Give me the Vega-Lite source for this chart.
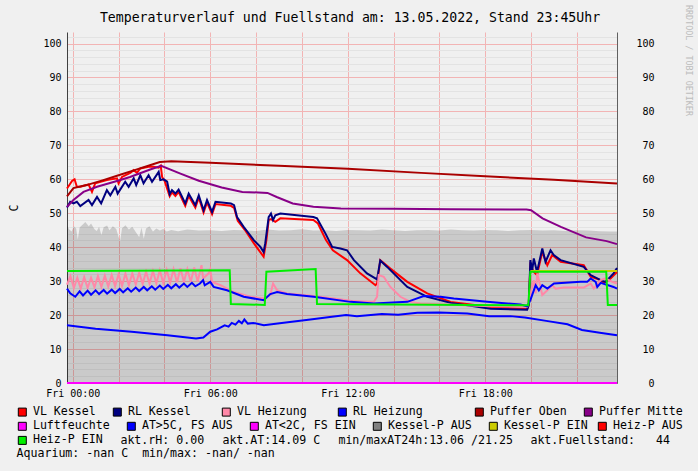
{
"$schema":"https://vega.github.io/schema/vega-lite/v6.json",
"width":550,"height":351,"autosize":"none",
"padding":{"left":67,"top":32,"right":81,"bottom":88},
"background":"#f0f0f0",
"config":{"view":{"stroke":null,"fill":"#ffffff"},"font":"DejaVu Sans Mono",
 "legend":{"orient":"none","direction":"horizontal","columnPadding":0,"rowPadding":0,"gridAlign":"each","symbolType":"square","symbolSize":64,"symbolStrokeColor":"#000000","symbolStrokeWidth":1,"symbolOpacity":1,"labelFont":"DejaVu Sans Mono","labelFontSize":11.6,"labelColor":"#000000","labelOffset":4.8,"labelLimit":400,"titleFont":"DejaVu Sans Mono","titleFontSize":11.6,"titleFontWeight":"normal","titleColor":"#000000","titleLimit":600}},
"title":{"text":"Temperaturverlauf und Fuellstand am: 13.05.2022, Stand 23:45Uhr","font":"DejaVu Sans Mono","fontSize":13.2,"fontWeight":"normal","color":"#000000","anchor":"middle","frame":"group","baseline":"middle","offset":0,"dy":27,"dx":8},
"datasets":{
"fill":[
{"h":-0.25,"v":46.3},{"h":-0.15,"v":45.2},{"h":-0.05,"v":44.6},{"h":0.05,"v":46.2},{"h":0.15,"v":45.5},{"h":0.22,"v":42.3},{"h":0.3,"v":45.8},{"h":0.45,"v":46.8},{"h":0.55,"v":47.4},{"h":0.7,"v":46.2},{"h":0.8,"v":47.0},{"h":0.95,"v":45.3},{"h":1.05,"v":44.8},{"h":1.15,"v":46.0},{"h":1.25,"v":43.6},{"h":1.35,"v":45.9},{"h":1.5,"v":46.4},{"h":1.6,"v":45.0},{"h":1.75,"v":46.2},{"h":1.9,"v":45.4},{"h":2.0,"v":43.0},{"h":2.07,"v":41.8},{"h":2.15,"v":45.6},{"h":2.3,"v":46.5},{"h":2.45,"v":45.2},{"h":2.6,"v":46.0},{"h":2.75,"v":44.5},{"h":2.9,"v":43.0},{"h":3.0,"v":45.8},{"h":3.1,"v":42.5},{"h":3.2,"v":45.5},{"h":3.35,"v":46.2},{"h":3.5,"v":44.6},{"h":3.65,"v":45.5},{"h":3.8,"v":44.9},{"h":3.95,"v":45.4},{"h":4.1,"v":44.6},{"h":4.3,"v":45.1},{"h":4.6,"v":44.7},{"h":5.0,"v":45.2},{"h":5.5,"v":44.9},{"h":6.0,"v":45.0},{"h":6.5,"v":44.8},{"h":7.0,"v":45.1},{"h":7.5,"v":45.0},{"h":8.0,"v":44.8},{"h":8.5,"v":45.2},{"h":9.0,"v":44.9},{"h":9.5,"v":45.0},{"h":10.0,"v":45.3},{"h":10.5,"v":44.9},{"h":11.0,"v":45.0},{"h":11.5,"v":44.8},{"h":12.0,"v":45.1},{"h":12.5,"v":45.0},{"h":13.0,"v":44.9},{"h":13.5,"v":45.2},{"h":14.0,"v":45.0},{"h":14.5,"v":44.8},{"h":15.0,"v":45.0},{"h":15.5,"v":45.1},{"h":16.0,"v":44.9},{"h":16.5,"v":45.2},{"h":17.0,"v":45.0},{"h":17.5,"v":44.9},{"h":18.0,"v":45.1},{"h":18.5,"v":45.0},{"h":19.0,"v":44.8},{"h":19.5,"v":45.0},{"h":20.0,"v":45.1},{"h":20.5,"v":44.9},{"h":21.0,"v":45.0},{"h":21.5,"v":44.8},{"h":22.0,"v":45.0},{"h":22.5,"v":44.9},{"h":23.0,"v":44.7},{"h":23.5,"v":44.6},{"h":23.75,"v":44.6}
],
"lines":[
{"s":"VL Kessel","h":-0.25,"v":57.3},{"s":"VL Kessel","h":-0.03,"v":59.5},{"s":"VL Kessel","h":0.08,"v":60.0},{"s":"VL Kessel","h":0.18,"v":57.8},{"s":"VL Kessel","h":0.33,"v":57.8},{"s":"VL Kessel","h":0.69,"v":58.5},{"s":"VL Kessel","h":0.84,"v":56.3},{"s":"VL Kessel","h":0.98,"v":58.8},{"s":"VL Kessel","h":1.49,"v":59.8},{"s":"VL Kessel","h":1.93,"v":60.3},{"s":"VL Kessel","h":2.0,"v":58.8},{"s":"VL Kessel","h":2.15,"v":60.7},{"s":"VL Kessel","h":2.51,"v":61.9},{"s":"VL Kessel","h":2.66,"v":62.7},{"s":"VL Kessel","h":2.8,"v":61.9},{"s":"VL Kessel","h":2.95,"v":63.2},{"s":"VL Kessel","h":3.31,"v":63.7},{"s":"VL Kessel","h":3.53,"v":63.7},{"s":"VL Kessel","h":3.75,"v":63.4},{"s":"VL Kessel","h":3.84,"v":64.0},{"s":"VL Kessel","h":3.9,"v":60.7},{"s":"VL Kessel","h":4.01,"v":59.5},{"s":"VL Kessel","h":4.23,"v":55.0},{"s":"VL Kessel","h":4.33,"v":56.2},{"s":"VL Kessel","h":4.48,"v":55.1},{"s":"VL Kessel","h":4.62,"v":56.3},{"s":"VL Kessel","h":4.91,"v":52.2},{"s":"VL Kessel","h":5.06,"v":55.1},{"s":"VL Kessel","h":5.35,"v":51.7},{"s":"VL Kessel","h":5.5,"v":54.6},{"s":"VL Kessel","h":5.71,"v":50.2},{"s":"VL Kessel","h":5.86,"v":53.2},{"s":"VL Kessel","h":6.08,"v":49.7},{"s":"VL Kessel","h":6.23,"v":52.7},{"s":"VL Kessel","h":6.9,"v":52.2},{"s":"VL Kessel","h":7.04,"v":51.6},{"s":"VL Kessel","h":7.2,"v":47.8},{"s":"VL Kessel","h":7.5,"v":45.2},{"s":"VL Kessel","h":7.9,"v":41.2},{"s":"VL Kessel","h":8.33,"v":37.2},{"s":"VL Kessel","h":8.45,"v":42.0},{"s":"VL Kessel","h":8.55,"v":48.0},{"s":"VL Kessel","h":8.65,"v":48.3},{"s":"VL Kessel","h":8.84,"v":47.5},{"s":"VL Kessel","h":9.06,"v":48.5},{"s":"VL Kessel","h":10.5,"v":48.0},{"s":"VL Kessel","h":10.7,"v":47.0},{"s":"VL Kessel","h":11.05,"v":42.1},{"s":"VL Kessel","h":11.35,"v":39.1},{"s":"VL Kessel","h":11.97,"v":36.2},{"s":"VL Kessel","h":12.55,"v":32.3},{"s":"VL Kessel","h":13.21,"v":28.8},{"s":"VL Kessel","h":13.28,"v":29.3},{"s":"VL Kessel","h":13.42,"v":36.2},{"s":"VL Kessel","h":13.86,"v":33.7},{"s":"VL Kessel","h":14.6,"v":29.8},{"s":"VL Kessel","h":15.47,"v":26.4},{"s":"VL Kessel","h":16.49,"v":23.9},{"s":"VL Kessel","h":18.24,"v":22.4},{"s":"VL Kessel","h":19.83,"v":21.8},{"s":"VL Kessel","h":19.9,"v":23.0},{"s":"VL Kessel","h":19.97,"v":34.7},{"s":"VL Kessel","h":20.12,"v":32.7},{"s":"VL Kessel","h":20.26,"v":31.8},{"s":"VL Kessel","h":20.49,"v":38.6},{"s":"VL Kessel","h":20.71,"v":34.7},{"s":"VL Kessel","h":20.92,"v":37.7},{"s":"VL Kessel","h":21.29,"v":35.7},{"s":"VL Kessel","h":22.3,"v":34.7},{"s":"VL Kessel","h":22.6,"v":31.3},{"s":"VL Kessel","h":23.04,"v":30.3},{"s":"VL Kessel","h":23.18,"v":29.5},{"s":"VL Kessel","h":23.47,"v":30.8},{"s":"VL Kessel","h":23.75,"v":32.7},
{"s":"RL Kessel","h":-0.25,"v":51.7},{"s":"RL Kessel","h":-0.11,"v":53.4},{"s":"RL Kessel","h":0.03,"v":52.9},{"s":"RL Kessel","h":0.18,"v":53.4},{"s":"RL Kessel","h":0.33,"v":52.1},{"s":"RL Kessel","h":0.69,"v":53.9},{"s":"RL Kessel","h":0.84,"v":52.4},{"s":"RL Kessel","h":1.06,"v":54.8},{"s":"RL Kessel","h":1.24,"v":52.9},{"s":"RL Kessel","h":1.49,"v":56.8},{"s":"RL Kessel","h":1.64,"v":55.3},{"s":"RL Kessel","h":1.86,"v":57.8},{"s":"RL Kessel","h":1.96,"v":55.8},{"s":"RL Kessel","h":2.29,"v":59.3},{"s":"RL Kessel","h":2.44,"v":57.8},{"s":"RL Kessel","h":2.66,"v":60.3},{"s":"RL Kessel","h":2.77,"v":58.3},{"s":"RL Kessel","h":2.95,"v":61.2},{"s":"RL Kessel","h":3.09,"v":58.8},{"s":"RL Kessel","h":3.31,"v":61.2},{"s":"RL Kessel","h":3.46,"v":59.3},{"s":"RL Kessel","h":3.75,"v":62.2},{"s":"RL Kessel","h":3.82,"v":59.8},{"s":"RL Kessel","h":3.97,"v":60.0},{"s":"RL Kessel","h":4.12,"v":59.3},{"s":"RL Kessel","h":4.23,"v":55.6},{"s":"RL Kessel","h":4.33,"v":56.8},{"s":"RL Kessel","h":4.48,"v":55.8},{"s":"RL Kessel","h":4.62,"v":57.0},{"s":"RL Kessel","h":4.91,"v":52.9},{"s":"RL Kessel","h":5.06,"v":55.8},{"s":"RL Kessel","h":5.35,"v":52.4},{"s":"RL Kessel","h":5.5,"v":55.3},{"s":"RL Kessel","h":5.71,"v":50.9},{"s":"RL Kessel","h":5.86,"v":53.9},{"s":"RL Kessel","h":6.08,"v":50.4},{"s":"RL Kessel","h":6.23,"v":53.4},{"s":"RL Kessel","h":6.9,"v":52.9},{"s":"RL Kessel","h":7.04,"v":52.4},{"s":"RL Kessel","h":7.17,"v":48.9},{"s":"RL Kessel","h":7.46,"v":46.0},{"s":"RL Kessel","h":7.9,"v":42.1},{"s":"RL Kessel","h":8.19,"v":40.1},{"s":"RL Kessel","h":8.33,"v":38.6},{"s":"RL Kessel","h":8.4,"v":41.1},{"s":"RL Kessel","h":8.55,"v":48.9},{"s":"RL Kessel","h":8.65,"v":49.9},{"s":"RL Kessel","h":8.74,"v":48.0},{"s":"RL Kessel","h":8.84,"v":49.4},{"s":"RL Kessel","h":9.06,"v":49.9},{"s":"RL Kessel","h":10.5,"v":48.9},{"s":"RL Kessel","h":10.66,"v":48.5},{"s":"RL Kessel","h":11.03,"v":44.0},{"s":"RL Kessel","h":11.32,"v":40.1},{"s":"RL Kessel","h":11.68,"v":39.6},{"s":"RL Kessel","h":11.97,"v":39.1},{"s":"RL Kessel","h":12.27,"v":36.2},{"s":"RL Kessel","h":12.84,"v":32.3},{"s":"RL Kessel","h":13.28,"v":30.5},{"s":"RL Kessel","h":13.42,"v":36.1},{"s":"RL Kessel","h":13.72,"v":34.2},{"s":"RL Kessel","h":14.6,"v":28.3},{"s":"RL Kessel","h":15.47,"v":25.4},{"s":"RL Kessel","h":16.49,"v":23.6},{"s":"RL Kessel","h":18.24,"v":21.9},{"s":"RL Kessel","h":19.83,"v":21.6},{"s":"RL Kessel","h":19.9,"v":23.0},{"s":"RL Kessel","h":19.97,"v":36.2},{"s":"RL Kessel","h":20.05,"v":33.2},{"s":"RL Kessel","h":20.12,"v":36.7},{"s":"RL Kessel","h":20.26,"v":32.7},{"s":"RL Kessel","h":20.49,"v":39.6},{"s":"RL Kessel","h":20.63,"v":35.7},{"s":"RL Kessel","h":20.85,"v":39.1},{"s":"RL Kessel","h":20.99,"v":37.7},{"s":"RL Kessel","h":21.29,"v":36.2},{"s":"RL Kessel","h":22.3,"v":34.2},{"s":"RL Kessel","h":22.6,"v":31.8},{"s":"RL Kessel","h":23.04,"v":30.3},{"s":"RL Kessel","h":23.25,"v":29.8},{"s":"RL Kessel","h":23.6,"v":32.3},{"s":"RL Kessel","h":23.75,"v":33.9},
{"s":"VL Heizung","h":-0.25,"v":29.0},{"s":"VL Heizung","h":-0.1,"v":31.5},{"s":"VL Heizung","h":0.05,"v":28.0},{"s":"VL Heizung","h":0.2,"v":31.0},{"s":"VL Heizung","h":0.35,"v":27.8},{"s":"VL Heizung","h":0.5,"v":31.2},{"s":"VL Heizung","h":0.65,"v":28.0},{"s":"VL Heizung","h":0.8,"v":31.0},{"s":"VL Heizung","h":0.95,"v":28.2},{"s":"VL Heizung","h":1.1,"v":31.5},{"s":"VL Heizung","h":1.25,"v":28.3},{"s":"VL Heizung","h":1.4,"v":31.6},{"s":"VL Heizung","h":1.55,"v":28.4},{"s":"VL Heizung","h":1.7,"v":31.8},{"s":"VL Heizung","h":1.85,"v":28.5},{"s":"VL Heizung","h":2.0,"v":32.0},{"s":"VL Heizung","h":2.15,"v":28.6},{"s":"VL Heizung","h":2.3,"v":32.2},{"s":"VL Heizung","h":2.45,"v":28.8},{"s":"VL Heizung","h":2.6,"v":32.3},{"s":"VL Heizung","h":2.75,"v":29.0},{"s":"VL Heizung","h":2.9,"v":32.5},{"s":"VL Heizung","h":3.05,"v":29.2},{"s":"VL Heizung","h":3.2,"v":32.8},{"s":"VL Heizung","h":3.35,"v":29.3},{"s":"VL Heizung","h":3.5,"v":33.0},{"s":"VL Heizung","h":3.65,"v":29.4},{"s":"VL Heizung","h":3.8,"v":33.2},{"s":"VL Heizung","h":3.95,"v":29.5},{"s":"VL Heizung","h":4.1,"v":33.3},{"s":"VL Heizung","h":4.25,"v":29.6},{"s":"VL Heizung","h":4.4,"v":33.5},{"s":"VL Heizung","h":4.55,"v":29.7},{"s":"VL Heizung","h":4.7,"v":33.8},{"s":"VL Heizung","h":4.85,"v":29.8},{"s":"VL Heizung","h":5.0,"v":33.5},{"s":"VL Heizung","h":5.15,"v":29.8},{"s":"VL Heizung","h":5.3,"v":34.0},{"s":"VL Heizung","h":5.45,"v":29.9},{"s":"VL Heizung","h":5.55,"v":32.7},{"s":"VL Heizung","h":5.62,"v":34.7},{"s":"VL Heizung","h":5.69,"v":30.8},{"s":"VL Heizung","h":5.93,"v":32.3},{"s":"VL Heizung","h":6.0,"v":33.5},{"s":"VL Heizung","h":6.08,"v":29.8},{"s":"VL Heizung","h":6.45,"v":28.8},{"s":"VL Heizung","h":7.02,"v":26.8},{"s":"VL Heizung","h":7.75,"v":25.4},{"s":"VL Heizung","h":8.33,"v":24.9},{"s":"VL Heizung","h":8.62,"v":25.9},{"s":"VL Heizung","h":8.74,"v":29.3},{"s":"VL Heizung","h":8.92,"v":27.3},{"s":"VL Heizung","h":9.35,"v":26.4},{"s":"VL Heizung","h":10.52,"v":25.6},{"s":"VL Heizung","h":11.39,"v":24.9},{"s":"VL Heizung","h":12.12,"v":24.2},{"s":"VL Heizung","h":12.68,"v":24.0},{"s":"VL Heizung","h":13.14,"v":23.9},{"s":"VL Heizung","h":13.28,"v":25.4},{"s":"VL Heizung","h":13.35,"v":31.8},{"s":"VL Heizung","h":13.57,"v":31.3},{"s":"VL Heizung","h":13.86,"v":28.3},{"s":"VL Heizung","h":14.3,"v":25.4},{"s":"VL Heizung","h":14.74,"v":23.9},{"s":"VL Heizung","h":15.17,"v":23.4},{"s":"VL Heizung","h":18.24,"v":22.6},{"s":"VL Heizung","h":19.83,"v":22.5},{"s":"VL Heizung","h":19.9,"v":24.4},{"s":"VL Heizung","h":20.12,"v":30.3},{"s":"VL Heizung","h":20.2,"v":26.4},{"s":"VL Heizung","h":20.27,"v":32.3},{"s":"VL Heizung","h":20.41,"v":28.3},{"s":"VL Heizung","h":20.49,"v":25.9},{"s":"VL Heizung","h":20.71,"v":27.3},{"s":"VL Heizung","h":20.92,"v":28.8},{"s":"VL Heizung","h":21.07,"v":27.8},{"s":"VL Heizung","h":21.43,"v":28.1},{"s":"VL Heizung","h":22.3,"v":28.1},{"s":"VL Heizung","h":22.6,"v":29.3},{"s":"VL Heizung","h":22.74,"v":27.8},{"s":"VL Heizung","h":23.04,"v":30.3},{"s":"VL Heizung","h":23.25,"v":30.8},{"s":"VL Heizung","h":23.54,"v":29.8},{"s":"VL Heizung","h":23.75,"v":29.3},
{"s":"RL Heizung","h":-0.25,"v":27.8},{"s":"RL Heizung","h":-0.11,"v":26.4},{"s":"RL Heizung","h":0.11,"v":25.4},{"s":"RL Heizung","h":0.3,"v":27.0},{"s":"RL Heizung","h":0.45,"v":25.8},{"s":"RL Heizung","h":0.65,"v":27.2},{"s":"RL Heizung","h":0.8,"v":26.0},{"s":"RL Heizung","h":1.0,"v":27.3},{"s":"RL Heizung","h":1.15,"v":26.2},{"s":"RL Heizung","h":1.35,"v":27.4},{"s":"RL Heizung","h":1.5,"v":26.3},{"s":"RL Heizung","h":1.7,"v":27.5},{"s":"RL Heizung","h":1.85,"v":26.5},{"s":"RL Heizung","h":2.05,"v":27.7},{"s":"RL Heizung","h":2.2,"v":26.7},{"s":"RL Heizung","h":2.4,"v":27.9},{"s":"RL Heizung","h":2.55,"v":26.9},{"s":"RL Heizung","h":2.75,"v":28.1},{"s":"RL Heizung","h":2.9,"v":27.1},{"s":"RL Heizung","h":3.1,"v":28.3},{"s":"RL Heizung","h":3.25,"v":27.3},{"s":"RL Heizung","h":3.45,"v":28.5},{"s":"RL Heizung","h":3.6,"v":27.5},{"s":"RL Heizung","h":3.8,"v":28.7},{"s":"RL Heizung","h":3.95,"v":27.7},{"s":"RL Heizung","h":4.15,"v":28.9},{"s":"RL Heizung","h":4.3,"v":27.9},{"s":"RL Heizung","h":4.5,"v":29.1},{"s":"RL Heizung","h":4.65,"v":28.1},{"s":"RL Heizung","h":4.85,"v":29.3},{"s":"RL Heizung","h":5.0,"v":28.3},{"s":"RL Heizung","h":5.2,"v":29.5},{"s":"RL Heizung","h":5.35,"v":28.5},{"s":"RL Heizung","h":5.55,"v":29.3},{"s":"RL Heizung","h":5.69,"v":30.3},{"s":"RL Heizung","h":5.76,"v":28.8},{"s":"RL Heizung","h":6.0,"v":29.8},{"s":"RL Heizung","h":6.15,"v":28.3},{"s":"RL Heizung","h":6.73,"v":27.3},{"s":"RL Heizung","h":7.46,"v":25.4},{"s":"RL Heizung","h":8.33,"v":24.4},{"s":"RL Heizung","h":8.62,"v":26.2},{"s":"RL Heizung","h":8.92,"v":26.8},{"s":"RL Heizung","h":9.35,"v":26.2},{"s":"RL Heizung","h":10.52,"v":25.4},{"s":"RL Heizung","h":12.12,"v":23.9},{"s":"RL Heizung","h":13.14,"v":23.4},{"s":"RL Heizung","h":14.6,"v":23.9},{"s":"RL Heizung","h":15.32,"v":25.6},{"s":"RL Heizung","h":16.05,"v":25.4},{"s":"RL Heizung","h":16.63,"v":24.9},{"s":"RL Heizung","h":18.09,"v":23.9},{"s":"RL Heizung","h":19.54,"v":23.1},{"s":"RL Heizung","h":19.83,"v":22.6},{"s":"RL Heizung","h":19.97,"v":24.4},{"s":"RL Heizung","h":20.2,"v":28.8},{"s":"RL Heizung","h":20.34,"v":27.3},{"s":"RL Heizung","h":20.49,"v":28.8},{"s":"RL Heizung","h":20.71,"v":27.8},{"s":"RL Heizung","h":21.0,"v":29.3},{"s":"RL Heizung","h":22.16,"v":29.8},{"s":"RL Heizung","h":22.45,"v":29.8},{"s":"RL Heizung","h":22.6,"v":30.8},{"s":"RL Heizung","h":22.82,"v":29.8},{"s":"RL Heizung","h":22.89,"v":28.3},{"s":"RL Heizung","h":23.04,"v":29.5},{"s":"RL Heizung","h":23.6,"v":28.3},{"s":"RL Heizung","h":23.75,"v":27.8},
{"s":"Puffer Oben","h":-0.25,"v":55.0},{"s":"Puffer Oben","h":0.03,"v":57.4},{"s":"Puffer Oben","h":0.6,"v":58.3},{"s":"Puffer Oben","h":1.3,"v":59.7},{"s":"Puffer Oben","h":2.0,"v":61.2},{"s":"Puffer Oben","h":2.7,"v":62.7},{"s":"Puffer Oben","h":3.4,"v":64.2},{"s":"Puffer Oben","h":3.8,"v":65.1},{"s":"Puffer Oben","h":4.3,"v":65.3},{"s":"Puffer Oben","h":6.0,"v":64.9},{"s":"Puffer Oben","h":9.0,"v":64.0},{"s":"Puffer Oben","h":12.0,"v":63.1},{"s":"Puffer Oben","h":15.2,"v":61.9},{"s":"Puffer Oben","h":18.0,"v":60.9},{"s":"Puffer Oben","h":21.0,"v":59.9},{"s":"Puffer Oben","h":23.75,"v":58.8},
{"s":"Puffer Mitte","h":-0.25,"v":51.9},{"s":"Puffer Mitte","h":0.03,"v":53.9},{"s":"Puffer Mitte","h":0.47,"v":56.3},{"s":"Puffer Mitte","h":1.06,"v":57.8},{"s":"Puffer Mitte","h":1.93,"v":59.5},{"s":"Puffer Mitte","h":2.5,"v":60.7},{"s":"Puffer Mitte","h":3.38,"v":62.9},{"s":"Puffer Mitte","h":3.86,"v":64.0},{"s":"Puffer Mitte","h":4.7,"v":61.7},{"s":"Puffer Mitte","h":5.5,"v":59.6},{"s":"Puffer Mitte","h":6.5,"v":57.6},{"s":"Puffer Mitte","h":7.4,"v":56.3},{"s":"Puffer Mitte","h":8.5,"v":56.0},{"s":"Puffer Mitte","h":8.9,"v":54.8},{"s":"Puffer Mitte","h":9.6,"v":52.9},{"s":"Puffer Mitte","h":10.5,"v":51.9},{"s":"Puffer Mitte","h":11.7,"v":51.4},{"s":"Puffer Mitte","h":14.0,"v":51.3},{"s":"Puffer Mitte","h":16.5,"v":51.2},{"s":"Puffer Mitte","h":19.8,"v":51.1},{"s":"Puffer Mitte","h":20.0,"v":50.9},{"s":"Puffer Mitte","h":20.5,"v":48.5},{"s":"Puffer Mitte","h":21.3,"v":46.0},{"s":"Puffer Mitte","h":22.4,"v":42.9},{"s":"Puffer Mitte","h":23.3,"v":41.8},{"s":"Puffer Mitte","h":23.75,"v":40.9},
{"s":"Luftfeuchte","h":-0.25,"v":0},{"s":"Luftfeuchte","h":23.75,"v":0},
{"s":"AT>5C, FS AUS","h":-0.25,"v":17.0},{"s":"AT>5C, FS AUS","h":1.0,"v":16.0},{"s":"AT>5C, FS AUS","h":2.57,"v":15.1},{"s":"AT>5C, FS AUS","h":4.13,"v":14.1},{"s":"AT>5C, FS AUS","h":5.38,"v":13.1},{"s":"AT>5C, FS AUS","h":5.7,"v":13.4},{"s":"AT>5C, FS AUS","h":6.0,"v":15.1},{"s":"AT>5C, FS AUS","h":6.3,"v":15.8},{"s":"AT>5C, FS AUS","h":6.63,"v":17.0},{"s":"AT>5C, FS AUS","h":6.8,"v":16.6},{"s":"AT>5C, FS AUS","h":6.94,"v":17.7},{"s":"AT>5C, FS AUS","h":7.1,"v":17.2},{"s":"AT>5C, FS AUS","h":7.25,"v":18.3},{"s":"AT>5C, FS AUS","h":7.38,"v":17.6},{"s":"AT>5C, FS AUS","h":7.49,"v":18.7},{"s":"AT>5C, FS AUS","h":7.64,"v":17.5},{"s":"AT>5C, FS AUS","h":7.88,"v":17.7},{"s":"AT>5C, FS AUS","h":8.34,"v":17.0},{"s":"AT>5C, FS AUS","h":9.12,"v":17.7},{"s":"AT>5C, FS AUS","h":10.37,"v":18.7},{"s":"AT>5C, FS AUS","h":11.31,"v":19.5},{"s":"AT>5C, FS AUS","h":11.93,"v":20.0},{"s":"AT>5C, FS AUS","h":12.4,"v":19.7},{"s":"AT>5C, FS AUS","h":13.49,"v":20.3},{"s":"AT>5C, FS AUS","h":14.2,"v":20.1},{"s":"AT>5C, FS AUS","h":15.04,"v":20.7},{"s":"AT>5C, FS AUS","h":15.99,"v":20.8},{"s":"AT>5C, FS AUS","h":17.22,"v":20.5},{"s":"AT>5C, FS AUS","h":18.17,"v":19.7},{"s":"AT>5C, FS AUS","h":19.1,"v":19.7},{"s":"AT>5C, FS AUS","h":19.73,"v":19.3},{"s":"AT>5C, FS AUS","h":20.66,"v":18.3},{"s":"AT>5C, FS AUS","h":21.59,"v":17.3},{"s":"AT>5C, FS AUS","h":22.22,"v":15.6},{"s":"AT>5C, FS AUS","h":23.0,"v":14.8},{"s":"AT>5C, FS AUS","h":23.75,"v":14.1},
{"s":"Kessel-P EIN","h":19.97,"v":33.0},{"s":"Kessel-P EIN","h":23.75,"v":33.0},
{"s":"Heiz-P EIN","h":-0.25,"v":33.0},{"s":"Heiz-P EIN","h":6.85,"v":33.2},{"s":"Heiz-P EIN","h":6.9,"v":23.3},{"s":"Heiz-P EIN","h":8.38,"v":23.0},{"s":"Heiz-P EIN","h":8.45,"v":32.8},{"s":"Heiz-P EIN","h":10.6,"v":33.6},{"s":"Heiz-P EIN","h":10.66,"v":23.3},{"s":"Heiz-P EIN","h":19.88,"v":22.9},{"s":"Heiz-P EIN","h":19.97,"v":32.8},{"s":"Heiz-P EIN","h":23.28,"v":32.8},{"s":"Heiz-P EIN","h":23.35,"v":23.0},{"s":"Heiz-P EIN","h":23.75,"v":23.0}
]
},
"layer":[
{"data":{"name":"fill"},
 "mark":{"type":"area","color":"#000000","opacity":0.155},
 "encoding":{
  "x":{"field":"h","type":"quantitative","scale":{"domain":[-0.25,23.75],"nice":false,"zero":false},
   "axis":{"orient":"bottom","title":null,"values":[0,0.5,1,1.5,2,2.5,3,3.5,4,4.5,5,5.5,6,6.5,7,7.5,8,8.5,9,9.5,10,10.5,11,11.5,12,12.5,13,13.5,14,14.5,15,15.5,16,16.5,17,17.5,18,18.5,19,19.5,20,20.5,21,21.5,22,22.5,23,23.5],
    "labelExpr":"datum.value % 6 === 0 ? 'Fri ' + (datum.value < 10 ? '0' : '') + datum.value + ':00' : ''",
    "labelFont":"DejaVu Sans Mono","labelFontSize":10,"labelColor":"#000000","labelPadding":5,"labelOverlap":false,"labelFlush":false,"labelBound":false,
    "ticks":false,"domain":true,"domainColor":"#404040","domainWidth":1,
    "grid":true,"gridWidth":1,"gridColor":{"condition":{"test":"datum.value % 2 === 0","value":"#f2b4b4"},"value":"#e3e3e3"}}},
  "y":{"field":"v","type":"quantitative","scale":{"domain":[0,103.4],"nice":false,"zero":true},
   "axis":{"orient":"left","title":"C","titleFont":"DejaVu Sans Mono","titleFontSize":11.6,"titleFontWeight":"normal","titleColor":"#000000","titleX":-53,"titleY":175.5,"titleAngle":-90,"titleAlign":"center","titleBaseline":"middle",
    "values":[0,2,4,6,8,10,12,14,16,18,20,22,24,26,28,30,32,34,36,38,40,42,44,46,48,50,52,54,56,58,60,62,64,66,68,70,72,74,76,78,80,82,84,86,88,90,92,94,96,98,100,102],
    "labelExpr":"datum.value % 10 === 0 ? datum.value : ''",
    "labelFont":"DejaVu Sans Mono","labelFontSize":10,"labelColor":"#000000","labelPadding":6,"labelOverlap":false,"labelFlush":false,"labelBound":false,
    "ticks":false,"domain":true,"domainColor":"#404040","domainWidth":1,
    "grid":true,"gridWidth":1,"gridColor":{"condition":{"test":"datum.value % 10 === 0","value":"#f2b4b4"},"value":"#e3e3e3"}}}
 }},
{"data":{"name":"lines"},
 "mark":{"type":"line","strokeWidth":2,"strokeJoin":"miter"},
 "encoding":{
  "x":{"field":"h","type":"quantitative"},
  "y":{"field":"v","type":"quantitative",
   "axis":{"orient":"right","title":"RRDTOOL / TOBI OETIKER","titleFont":"DejaVu Sans Mono","titleFontSize":8.4,"titleFontWeight":"normal","titleColor":"#bcbcbc","titleAngle":90,"titleX":71,"titleY":28,"titleAlign":"center","titleBaseline":"middle",
    "values":[0,10,20,30,40,50,60,70,80,90,100],"labelFont":"DejaVu Sans Mono","labelFontSize":10,"labelColor":"#000000","labelAlign":"right","labelPadding":37,"labelOverlap":false,"labelFlush":false,"labelBound":false,
    "ticks":false,"grid":false,"domain":true,"domainColor":"#606060","domainWidth":1}},
  "stroke":{"field":"s","type":"nominal","legend":null,
   "scale":{"domain":["VL Kessel","RL Kessel","VL Heizung","RL Heizung","Puffer Oben","Puffer Mitte","Luftfeuchte","AT>5C, FS AUS","AT<2C, FS EIN","Kessel-P AUS","Kessel-P EIN","Heiz-P AUS","Heiz-P EIN"],
    "range":["#ff0000","#000080","#ff88a8","#0000ff","#aa0000","#880088","#ff00ff","#0000ff","#ff00ff","#808080","#cccc00","#ff0000","#00ee00"]}}
 }},
{"data":{"values":[]},
 "mark":{"type":"point","shape":"square","filled":true},
 "encoding":{"color":{"field":"s","type":"nominal",
   "scale":{"domain":["VL Kessel","RL Kessel","VL Heizung","RL Heizung","Puffer Oben","Puffer Mitte"],"range":["#ff0000","#000080","#ff88a8","#0000ff","#aa0000","#880088"]},
   "legend":{"title":null,"legendX":-50.5,"legendY":374.2,"columns":6,
    "labelExpr":"pad(datum.value, [11,13,14,17,13,0][indexof(['VL Kessel','RL Kessel','VL Heizung','RL Heizung','Puffer Oben','Puffer Mitte'], datum.value)], '\u00a0') + '\u200b'"}}}},
{"data":{"values":[]},
 "mark":{"type":"point","shape":"square","filled":true},
 "encoding":{"color":{"field":"s","type":"nominal",
   "scale":{"domain":["Luftfeuchte","AT>5C, FS AUS","AT<2C, FS EIN","Kessel-P AUS","Kessel-P EIN","Heiz-P AUS"],"range":["#ff00ff","#0000ff","#ff00ff","#808080","#cccc00","#ff0000"]},
   "legend":{"title":null,"legendX":-50.5,"legendY":388.4,"columns":6,
    "labelExpr":"pad(datum.value, [13,15,15,14,13,0][indexof(['Luftfeuchte','AT>5C, FS AUS','AT<2C, FS EIN','Kessel-P AUS','Kessel-P EIN','Heiz-P AUS'], datum.value)], '\u00a0') + '\u200b'"}}}},
{"data":{"values":[]},
 "mark":{"type":"point","shape":"square","filled":true},
 "encoding":{"color":{"field":"s","type":"nominal",
   "scale":{"domain":["Heiz-P EIN"],"range":["#00ee00"]},
   "legend":{"legendX":-50.5,"legendY":402.6,"columns":1,
    "title":"Aquarium: -nan C \u00a0min/max: -nan/ -nan","titleOrient":"bottom","titleAnchor":"start","titlePadding":0.9}}}},
{"data":{"values":[]},
 "mark":{"type":"point","shape":"square","filled":true},
 "encoding":{"color":{"field":"s","type":"nominal",
   "scale":{"domain":["akt.rH: 0.00","akt.AT:14.09 C","min/maxAT24h:13.06 /21.25","akt.Fuellstand:\u00a0\u00a0\u00a044"],"range":["#ffffff","#ffffff","#ffffff","#ffffff"]},
   "legend":{"title":null,"legendX":37,"legendY":402.6,"columns":4,"columnPadding":1,"symbolOpacity":0,"symbolStrokeWidth":0}}}}
],
"resolve":{"axis":{"y":"independent"},"scale":{"color":"independent"}}
}
